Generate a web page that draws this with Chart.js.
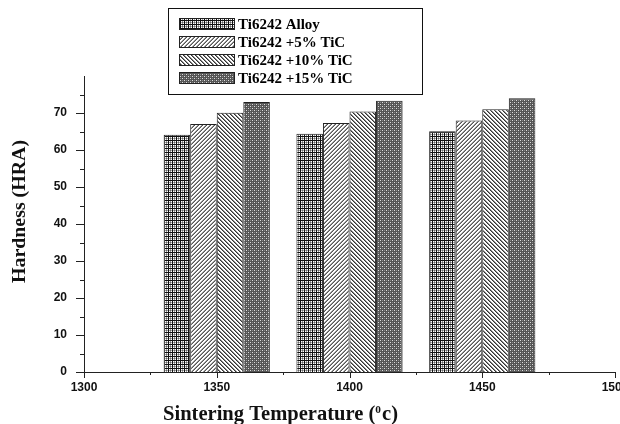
<!DOCTYPE html>
<html>
<head>
<meta charset="utf-8">
<script src="https://cdn.jsdelivr.net/npm/chart.js@4.4.0/dist/chart.umd.min.js"></script>
<style>
  html, body { margin: 0; padding: 0; background: #fff; }
  canvas { display: block; }
</style>
</head>
<body>
<canvas id="hardness" width="620" height="424"></canvas>
<script>
// values
const temps = [1350, 1400, 1450];
const seriesNames = ['Ti6242 Alloy', 'Ti6242 +5% TiC', 'Ti6242 +10% TiC', 'Ti6242 +15% TiC'];
const alloy = [64.1, 64.4, 65.1];
const tic5 = [67.0, 67.3, 68.0];
const tic10 = [70.1, 70.4, 71.0];
const tic15 = [73.0, 73.3, 74.0];
const xTickValues = [1300, 1350, 1400, 1450, 1500];
const yTickValues = [0, 10, 20, 30, 40, 50, 60, 70];
const yTitle = 'Hardness (HRA)';
const xTitle = ['Sintering Temperature (', '0', 'c)'];

const canvas = document.getElementById('hardness');
const ctx = canvas.getContext('2d');

function makePattern(bg, pixels) {
    const c = document.createElement('canvas');
    c.width = 4; c.height = 4;
    const g = c.getContext('2d');
    g.fillStyle = bg;
    g.fillRect(0, 0, 4, 4);
    pixels.forEach(([x, y, col]) => {
        g.fillStyle = col;
        g.fillRect(x, y, 1, 1);
    });
    return ctx.createPattern(c, 'repeat');
}

const gridPat = makePattern('#fff', [
    [0, 0, '#111'], [1, 0, '#111'], [2, 0, '#111'], [3, 0, '#111'],
    [0, 1, '#111'], [0, 2, '#111'], [0, 3, '#111'],
    [2, 1, '#999'], [2, 2, '#666'], [2, 3, '#999'], [1, 2, '#aaa'], [3, 2, '#aaa']
]);
const slashPat = makePattern('#fff', [
    [3, 0, '#555'], [2, 1, '#555'], [1, 2, '#555'], [0, 3, '#555'],
    [2, 0, '#999'], [1, 1, '#999'], [0, 2, '#999'], [3, 3, '#999']
]);
const backPat = makePattern('#fff', [
    [0, 0, '#333'], [1, 1, '#333'], [2, 2, '#333'], [3, 3, '#333'],
    [1, 0, '#888'], [2, 1, '#888'], [3, 2, '#888'], [0, 3, '#888']
]);
const dotPat = makePattern('#555', [
    [0, 0, '#ddd'], [2, 2, '#ddd'], [2, 0, '#888'], [0, 2, '#888']
]);

const patterns = [gridPat, slashPat, backPat, dotPat];
const series = [alloy, tic5, tic10, tic15];

const tickFont = { family: 'Liberation Sans', weight: 'bold', size: 12 };
const serif = '"Liberation Serif", "DejaVu Serif", serif';

const decor = {
    id: 'decor',
    afterDraw(chart) {
        const c = chart.ctx;
        const xs = chart.scales.x, ys = chart.scales.y;
        c.save();
        c.strokeStyle = '#222';
        c.lineWidth = 1;

        // tick marks, long on labelled values, short in between
        c.beginPath();
        for (let v = 0; v < 80; v += 5) {
            const y = Math.round(ys.getPixelForValue(v)) + 0.5;
            const len = v % 10 === 0 ? 8 : 4;
            c.moveTo(xs.left - len, y);
            c.lineTo(xs.left, y);
        }
        for (let v = 1300; v <= 1500; v += 25) {
            const x = Math.round(xs.getPixelForValue(v)) + 0.5;
            const len = v % 50 === 0 ? 6 : 3;
            c.moveTo(x, ys.bottom);
            c.lineTo(x, ys.bottom + len);
        }
        c.stroke();

        // legend box
        c.strokeStyle = '#111';
        c.strokeRect(168.5, 8.5, 254, 86);
        c.font = 'bold 15px ' + serif;
        c.textBaseline = 'middle';
        c.textAlign = 'left';
        chart.data.datasets.forEach((ds, i) => {
            const top = 18 + i * 18;
            c.fillStyle = ds.backgroundColor;
            c.fillRect(179, top, 56, 12);
            c.strokeStyle = '#222';
            c.strokeRect(179.5, top + 0.5, 55, 11);
            c.fillStyle = '#000';
            c.fillText(ds.label, 238, top + 7);
        });

        // y title
        c.fillStyle = '#111';
        c.font = 'bold 19px ' + serif;
        const wy = c.measureText(yTitle).width;
        c.save();
        c.translate(25, 211.5);
        c.rotate(-Math.PI / 2);
        c.scale(143 / wy, 1);
        c.textAlign = 'center';
        c.textBaseline = 'alphabetic';
        c.fillText(yTitle, 0, 0);
        c.restore();

        // x title with superscript
        c.font = 'bold 20px ' + serif;
        const w1 = c.measureText(xTitle[0]).width;
        const w3 = c.measureText(xTitle[2]).width;
        c.font = 'bold 11px ' + serif;
        const w2 = c.measureText(xTitle[1]).width;
        c.save();
        c.translate(163, 420);
        c.scale(235 / (w1 + w2 + w3 + 1), 1);
        c.textAlign = 'left';
        c.textBaseline = 'alphabetic';
        c.font = 'bold 20px ' + serif;
        c.fillText(xTitle[0], 0, 0);
        c.font = 'bold 11px ' + serif;
        c.fillText(xTitle[1], w1, -7);
        c.font = 'bold 20px ' + serif;
        c.fillText(xTitle[2], w1 + w2 + 1, 0);
        c.restore();

        c.restore();
    }
};

new Chart(ctx, {
    type: 'bar',
    data: {
        datasets: seriesNames.map((name, i) => ({
            label: name,
            data: temps.map((t, j) => ({ x: t, y: series[i][j] })),
            backgroundColor: patterns[i],
            borderColor: '#222',
            borderWidth: 1,
            categoryPercentage: 0.8,
            barPercentage: 1.0
        }))
    },
    options: {
        responsive: false,
        animation: false,
        devicePixelRatio: 1,
        layout: { padding: { top: 76, right: 5, left: 0, bottom: 0 } },
        plugins: { legend: { display: false }, tooltip: { enabled: false } },
        scales: {
            x: {
                type: 'linear',
                min: 1300, max: 1500,
                offset: false,
                ticks: {
                    stepSize: 50, padding: 2, color: '#111', font: tickFont,
                    maxRotation: 0, autoSkip: false,
                    callback: v => xTickValues.includes(v) ? String(v) : ''
                },
                grid: { display: false, drawTicks: true, tickLength: 6 },
                border: { display: true, color: '#222', width: 1 },
                afterFit: s => { s.height = 52; s.paddingLeft = 0; s.paddingRight = 0; }
            },
            y: {
                min: 0, max: 80,
                ticks: {
                    stepSize: 10, padding: 9, color: '#111', font: tickFont,
                    callback: v => yTickValues.includes(v) ? String(v) : ''
                },
                grid: { display: false, drawTicks: true, tickLength: 8 },
                border: { display: true, color: '#222', width: 1 },
                afterFit: s => { s.width = 84; s.paddingTop = 0; s.paddingBottom = 0; }
            }
        }
    },
    plugins: [decor]
});
</script>
</body>
</html>
